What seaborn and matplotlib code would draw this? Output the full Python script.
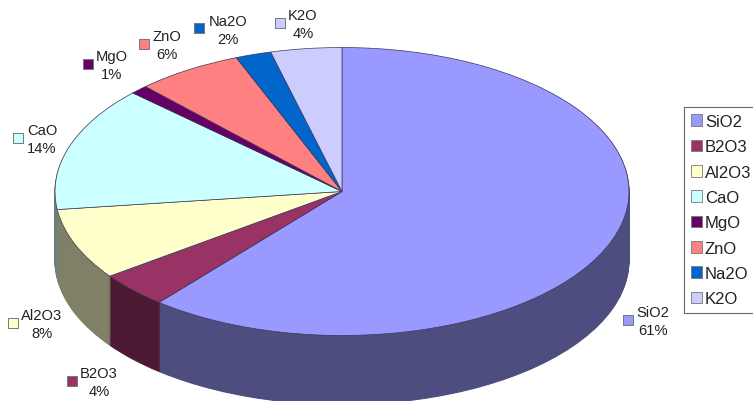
import numpy as np
import matplotlib
matplotlib.use("Agg")
import matplotlib.pyplot as plt
from matplotlib.patches import Patch
import seaborn as sns

# Oxide composition of the glass, in percent
oxides = ["SiO2", "B2O3", "Al2O3", "CaO", "MgO", "ZnO", "Na2O", "K2O"]
shares = [61, 4, 8, 14, 1, 6, 2, 4]
hex_colors = ["#9999FF", "#993366", "#FFFFCC", "#CCFFFF", "#660066", "#FF8080", "#0066CC", "#CCCCFF"]

# Callout placement in pixels: swatch centre, then centre of the text block
swatch_xy = [(628, 321), (72, 382), (13, 324), (18, 139), (88, 65), (144, 45), (199, 29), (280, 24)]
text_xy = [(653, 322), (99, 383), (42, 325), (42, 140), (112, 66), (167, 46), (228, 31), (303, 25)]

W, H = 753, 402
CX, CY, RX, RY = 342, 192.5, 287, 144
DEPTH = 69

sns.set_theme(style="white")
plt.rcParams["font.family"] = ["Liberation Sans", "DejaVu Sans"]

palette = sns.color_palette(hex_colors)
side_palette = [tuple(0.5 * c for c in col) for col in palette]

fig = plt.figure(figsize=(W / 100, H / 100), dpi=100, facecolor="white")

# The circle is squashed into an ellipse by unequal axis scales
ax = fig.add_axes([0, 0, 1, 1])
pie_kw = dict(startangle=90, counterclock=False, radius=1.0, normalize=True)

# Stacked copies of the pie, shifted downward, form the rim
for step in np.arange(DEPTH, 0, -1):
    rim, _ = ax.pie(shares, colors=side_palette, center=(0, -step / RY), **pie_kw)
    for wedge, col in zip(rim, side_palette):
        wedge.set_edgecolor(col)
        wedge.set_linewidth(0.8)
top, _ = ax.pie(shares, colors=palette, center=(0, 0),
                wedgeprops=dict(edgecolor="#3a3a55", linewidth=0.5), **pie_kw)

ax.set_aspect("auto")
ax.set_xlim(-CX / RX, (W - CX) / RX)
ax.set_ylim((CY - H) / RY, CY / RY)
ax.axis("off")

# Overlay in pixel coordinates for the callouts and legend
ov = fig.add_axes([0, 0, 1, 1], facecolor="none")
ov.set_xlim(0, W)
ov.set_ylim(H, 0)
ov.axis("off")

for name, share, col, (sx, sy), (tx, ty) in zip(oxides, shares, palette, swatch_xy, text_xy):
    ov.scatter([sx], [sy], marker="s", s=50, color=[col], edgecolors="#777777", linewidths=0.7, zorder=3)
    ov.text(tx, ty, f"{name}\n{share}%", ha="center", va="center", fontsize=10.6,
            color="#222222", linespacing=1.3)

handles = [Patch(facecolor=c, edgecolor="#777777", linewidth=0.6, label=n) for c, n in zip(palette, oxides)]
leg = ov.legend(handles=handles, loc="upper left", bbox_to_anchor=(683.5 / W, 1 - 108 / H),
                bbox_transform=fig.transFigure, borderaxespad=0, fontsize=12,
                handlelength=0.68, handleheight=0.68, handletextpad=0.18,
                labelspacing=0.62, borderpad=0.42, fancybox=False, framealpha=1,
                edgecolor="#666666", labelcolor="#222222")
leg.get_frame().set_linewidth(0.8)

fig.savefig("out.png", dpi=100, facecolor="white")
